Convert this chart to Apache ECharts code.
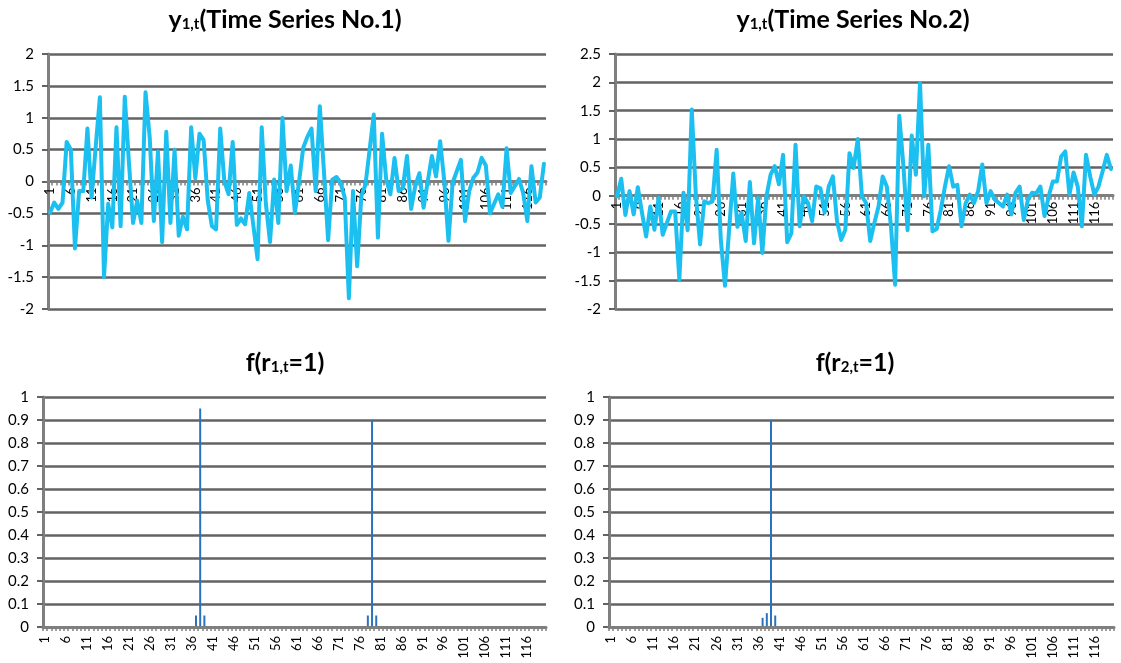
<!DOCTYPE html>
<html>
<head>
<meta charset="utf-8">
<script src="https://cdn.jsdelivr.net/npm/echarts@6/dist/echarts.min.js"></script>
<style>
html,body{margin:0;padding:0;background:#fff;}
#c{width:1121px;height:663px;}
</style>
</head>
<body>
<div id="c"></div>
<script>
var categories = [];
for (var i = 1; i <= 120; i++) categories.push(String(i));

var series1 = [-0.49,-0.33,-0.43,-0.33,0.62,0.5,-1.05,-0.15,-0.15,0.83,
-0.25,0.55,1.32,-1.5,-0.35,-0.72,0.85,-0.7,1.33,0.3,
-0.65,-0.3,-0.65,1.4,0.7,-0.62,0.47,-0.95,0.78,-0.65,
0.5,-0.85,-0.55,-0.75,0.85,0.05,0.75,0.65,-0.3,-0.7,
-0.75,0.83,0.0,-0.2,0.62,-0.68,-0.58,-0.67,-0.18,-0.7,
-1.22,0.85,-0.35,-0.95,0.03,-0.65,1.0,-0.15,0.25,-0.49,
0.0,0.53,0.7,0.83,-0.15,1.18,0.15,-0.92,0.03,0.07,
-0.02,-0.25,-1.83,-0.15,-1.33,-0.23,-0.05,0.5,1.05,-0.88,
0.75,0.03,-0.2,0.37,-0.15,-0.1,0.4,-0.43,-0.07,0.13,
-0.41,0.0,0.4,0.08,0.63,0.0,-0.93,-0.02,0.16,0.34,
-0.62,-0.15,0.06,0.14,0.37,0.25,-0.5,-0.35,-0.2,-0.4,
0.52,-0.18,-0.07,0.04,-0.18,-0.62,0.24,-0.33,-0.25,0.28];

var series2 = [-0.01,0.3,-0.34,0.08,-0.33,0.15,-0.3,-0.72,-0.19,-0.6,
-0.04,-0.69,-0.48,-0.28,-0.28,-1.48,0.05,-0.61,1.52,-0.01,
-0.86,-0.1,-0.13,-0.1,0.81,-0.78,-1.59,-0.6,0.39,-0.55,
-0.3,-0.8,0.24,-0.84,-0.04,-1.01,-0.01,0.37,0.52,0.2,
0.72,-0.82,-0.66,0.9,-0.54,-0.01,-0.13,-0.45,0.16,0.13,
-0.3,0.16,0.34,-0.45,-0.78,-0.6,0.75,0.49,1.0,-0.01,
-0.13,-0.8,-0.48,-0.19,0.34,0.16,-0.54,-1.57,1.41,0.52,
-0.61,1.06,0.37,1.99,-0.01,0.9,-0.63,-0.59,-0.25,0.16,
0.52,0.16,0.19,-0.54,-0.13,0.02,-0.13,0.08,0.55,-0.13,
0.08,-0.07,-0.13,-0.19,0.02,-0.33,0.05,0.16,-0.43,-0.07,
0.05,0.04,0.16,-0.36,-0.01,0.25,0.25,0.69,0.78,0.02,
0.41,0.16,-0.54,0.72,0.34,0.02,0.16,0.43,0.72,0.47];

var prob1 = [0,0,0,0,0,0,0,0,0,0, 0,0,0,0,0,0,0,0,0,0,
0,0,0,0,0,0,0,0,0,0, 0,0,0,0,0,0,0.05,0.95,0.05,0,
0,0,0,0,0,0,0,0,0,0, 0,0,0,0,0,0,0,0,0,0,
0,0,0,0,0,0,0,0,0,0, 0,0,0,0,0,0,0,0.05,0.9,0.05,
0,0,0,0,0,0,0,0,0,0, 0,0,0,0,0,0,0,0,0,0,
0,0,0,0,0,0,0,0,0,0, 0,0,0,0,0,0,0,0,0,0];

var prob2 = [0,0,0,0,0,0,0,0,0,0, 0,0,0,0,0,0,0,0,0,0,
0,0,0,0,0,0,0,0,0,0, 0,0,0,0,0,0,0.04,0.06,0.9,0.05,
0,0,0,0,0,0,0,0,0,0, 0,0,0,0,0,0,0,0,0,0,
0,0,0,0,0,0,0,0,0,0, 0,0,0,0,0,0,0,0,0,0,
0,0,0,0,0,0,0,0,0,0, 0,0,0,0,0,0,0,0,0,0,
0,0,0,0,0,0,0,0,0,0, 0,0,0,0,0,0,0,0,0,0];

var yTicksTop1 = {min: -2, max: 2, interval: 0.5};
var yTicksTop2 = {min: -2, max: 2.5, interval: 0.5};
var yTicksBottom = {min: 0, max: 1, interval: 0.1};

var FONT = 'Lato, "Liberation Sans", sans-serif';
var GRIDC = '#636363';
var AXISC = '#7f7f7f';

var TOP_GRID_H = 663 - 54 - 354;

function zeroOffset(t) {
  return -TOP_GRID_H * (0 - t.min) / (t.max - t.min);
}

function xAxis(gi, margin, offset) {
  return {
    type: 'category', gridIndex: gi, data: categories, boundaryGap: true,
    position: 'bottom', offset: offset, z: 3,
    axisLine: {onZero: false, lineStyle: {color: AXISC, width: 3}},
    axisTick: {show: true, interval: 0, length: 4, lineStyle: {color: AXISC, width: 1.5}},
    axisLabel: {interval: 4, rotate: 90, margin: margin, fontSize: 13, color: '#000', fontFamily: FONT},
    splitLine: {show: false}
  };
}
function yAxis(gi, t) {
  return {
    type: 'value', gridIndex: gi, min: t.min, max: t.max, interval: t.interval,
    axisLine: {show: true, onZero: false, lineStyle: {color: AXISC, width: 3}},
    axisTick: {show: true, length: 6, lineStyle: {color: GRIDC, width: 2}},
    axisLabel: {margin: 14, fontSize: 15, color: '#000', fontFamily: FONT,
      formatter: function (v) { return String(Math.round(v * 10) / 10); }},
    splitLine: {show: true, lineStyle: {color: GRIDC, width: 2.5}}
  };
}

var titleRich = {
  a: {fontSize: 25, fontWeight: 'bold', fontFamily: FONT, color: '#000', lineHeight: 32, verticalAlign: 'bottom'},
  s: {fontSize: 15, fontWeight: 'bold', fontFamily: FONT, color: '#000', lineHeight: 12, verticalAlign: 'bottom'}
};

var chart = echarts.init(document.getElementById('c'), null, {renderer: 'canvas'});
chart.setOption({
  animation: false,
  backgroundColor: '#fff',
  title: [
    {text: '{a|y}{s|1,t}{a|(Time Series No.1)}', left: 280, top: -5, textAlign: 'center', textStyle: {rich: titleRich}},
    {text: '{a|y}{s|1,t}{a|(Time Series No.2)}', left: 848, top: -5, textAlign: 'center', textStyle: {rich: titleRich}},
    {text: '{a|f(r}{s|1,t}{a|=1)}', left: 280, top: 338, textAlign: 'center', textStyle: {rich: titleRich}},
    {text: '{a|f(r}{s|2,t}{a|=1)}', left: 850, top: 338, textAlign: 'center', textStyle: {rich: titleRich}}
  ],
  grid: [
    {left: 48, right: 575, top: 54, bottom: 354},
    {left: 615, right: 8, top: 54, bottom: 354},
    {left: 43, right: 575, top: 397, bottom: 36},
    {left: 609, right: 7, top: 397, bottom: 36}
  ],
  xAxis: [xAxis(0, 6, zeroOffset(yTicksTop1)), xAxis(1, 6, zeroOffset(yTicksTop2)), xAxis(2, 9, 0), xAxis(3, 9, 0)],
  yAxis: [yAxis(0, yTicksTop1), yAxis(1, yTicksTop2), yAxis(2, yTicksBottom), yAxis(3, yTicksBottom)],
  series: [
    {type: 'line', xAxisIndex: 0, yAxisIndex: 0, data: series1, symbol: 'none', zlevel: 1,
      lineStyle: {color: '#1BBFF0', width: 4, join: 'round', cap: 'round'}},
    {type: 'line', xAxisIndex: 1, yAxisIndex: 1, data: series2, symbol: 'none', zlevel: 1,
      lineStyle: {color: '#1BBFF0', width: 4, join: 'round', cap: 'round'}},
    {type: 'bar', xAxisIndex: 2, yAxisIndex: 2, data: prob1, barWidth: 2,
      itemStyle: {color: '#2a72c0'}},
    {type: 'bar', xAxisIndex: 3, yAxisIndex: 3, data: prob2, barWidth: 2,
      itemStyle: {color: '#2a72c0'}}
  ]
});
</script>
</body>
</html>
